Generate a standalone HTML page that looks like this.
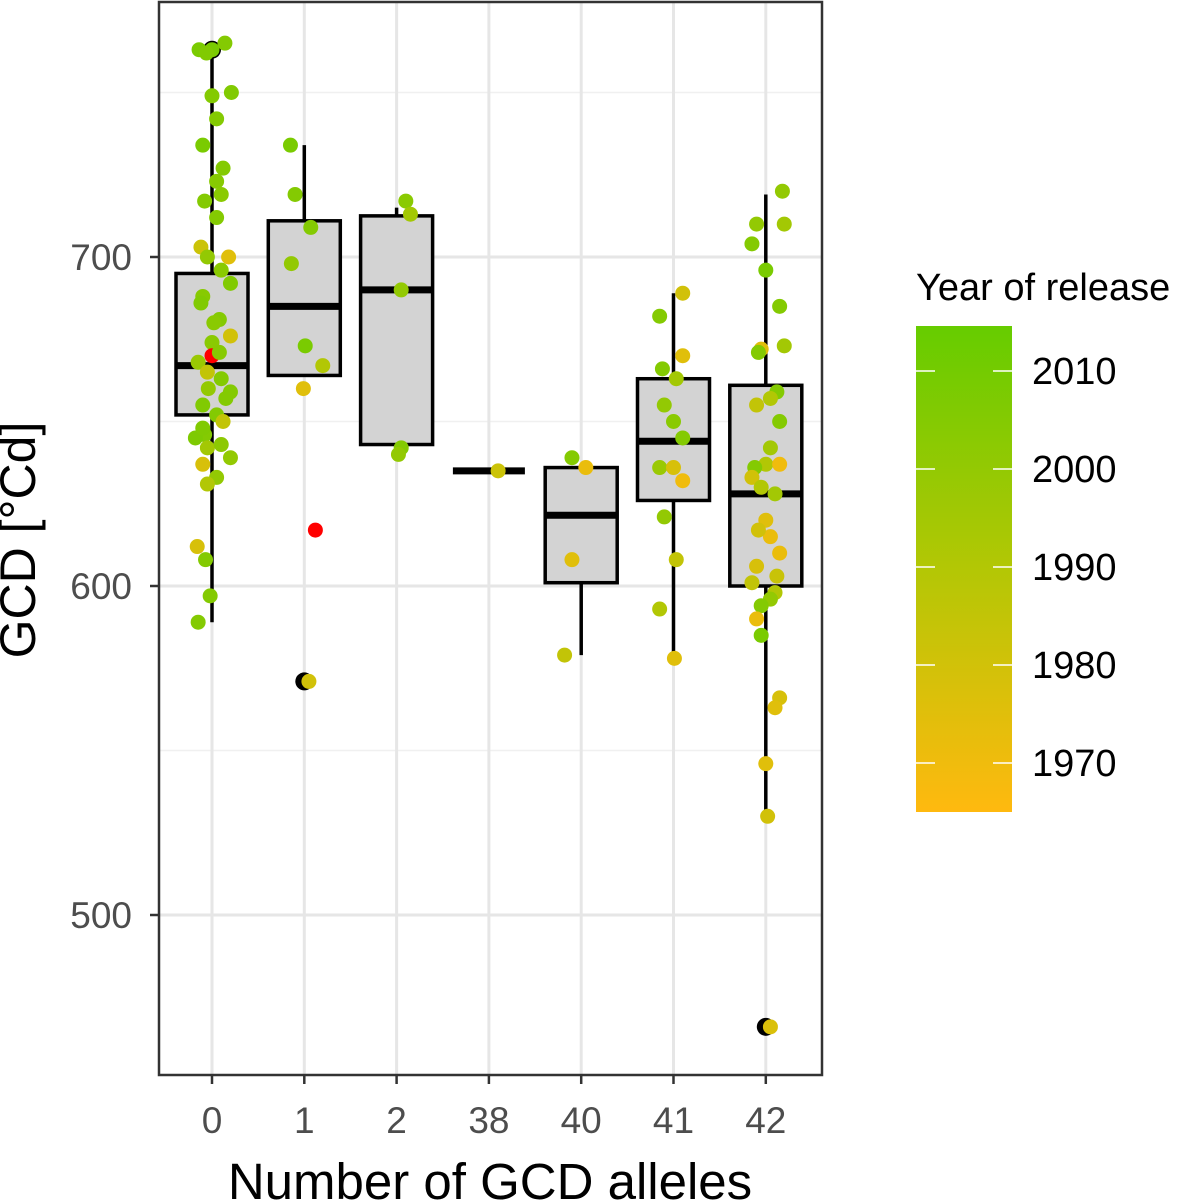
<!DOCTYPE html>
<html><head><meta charset="utf-8"><style>
html,body{margin:0;padding:0;background:#fff;}
svg{display:block;font-family:"Liberation Sans",Arial,sans-serif;}
</style></head><body>
<svg id="chart" width="1181" height="1201" viewBox="0 0 1181 1201">
<defs><linearGradient id="yr" x1="0" y1="1" x2="0" y2="0">
<stop offset="0" stop-color="#FFB90F"/><stop offset="0.5" stop-color="#B3C705"/><stop offset="1" stop-color="#66CC00"/>
</linearGradient></defs>
<g id="grid"></g><g id="boxes"></g><g id="pts"></g>
<rect x="159" y="2" width="663" height="1073" fill="none" stroke="#333" stroke-width="2.5"/>
<g id="axes"></g>
<text x="22" y="540" transform="rotate(-90 22 540)" text-anchor="middle" dominant-baseline="middle" font-size="50" fill="#000">GCD [°Cd]</text>
<text x="490" y="1199" text-anchor="middle" font-size="51" fill="#000">Number of GCD alleles</text>
<g>
<text x="916" y="300" font-size="38" fill="#000">Year of release</text>
<rect x="916" y="326" width="96" height="486" fill="url(#yr)"/>
<g id="leg"></g></g>
</svg>
<script>
const categories=["0","1","2","38","40","41","42"];
const q1=[652,664,643,635,601,626,600];
const med=[667,685,690,635,621.5,644,628];
const q3=[695,711,712.5,635,636,663,661];
const wLo=[589,664,643,635,579,579,530];
const wHi=[763,734,715,635,636,689,719];
const outCat=[0,1,6];
const outVal=[763,571,466];
const yTicks=[500,600,700];
const legendYears=[1970,1980,1990,2000,2010];
// points: category index, jitter offset (category units), value, year
const ptCat=[0,0,0,0,0,0,0,0,0,0,0,0,0,0,0,0,0,0,0,0,0,0,0,0,0,0,0,0,0,0,0,0,0,0,0,0,0,0,0,0,0,0,0,0,0,0,0,0,
1,1,1,1,1,1,1,1,1,
2,2,2,2,2,
3,
4,4,4,4,
5,5,5,5,5,5,5,5,5,5,5,5,5,5,5,
6,6,6,6,6,6,6,6,6,6,6,6,6,6,6,6,6,6,6,6,6,6,6,6,6,6,6,6,6,6,6,6,6,6,6,6,6];
const ptJit=[0,0.14,-0.14,-0.06,0.21,0,0.05,-0.1,0.12,0.05,0.1,-0.08,0.05,-0.12,0.18,-0.05,0.1,0.2,-0.1,0.08,0,0.0,-0.15,-0.05,0.1,0.2,-0.1,0.05,-0.08,-0.05,0.2,-0.1,0.05,-0.05,-0.16,-0.07,-0.02,-0.15,0.12,0.2,-0.04,-0.12,0.08,-0.18,0.15,0.02,-0.1,0.1,
-0.15,-0.1,-0.14,0.07,0.01,0.2,-0.01,0.12,0.05,
0.1,0.15,0.05,0.05,0.02,
0.1,
-0.18,-0.1,-0.1,0.05,
0.1,-0.15,-0.12,0.03,0.1,-0.1,0.0,0.1,-0.15,0,0.1,-0.1,0.03,-0.15,0.01,
0.18,-0.1,0.2,-0.15,0,0.15,-0.05,0.2,-0.08,0.12,0.05,-0.1,0.15,0.05,0,-0.12,-0.15,-0.05,0.1,0,0.05,0.15,-0.1,0.12,-0.15,0.1,0.05,-0.05,-0.1,-0.05,0.15,0.1,0,0.02,-0.08,0.15,0.05];
const ptVal=[763,765,763,762,750,749,742,734,727,723,719,717,712,703,700,700,696,692,688,681,674,670,668,665,663,659,655,652,646,642,639,637,633,631,612,608,597,589,650,676,660,686,671,645,657,680,648,643,
734,719,698,709,673,667,660,617,571,
717,713,690,642,640,
635,
579,608,639,636,
689,682,666,663,670,655,650,645,636,636,632,621,608,593,578,
720,710,710,704,696,685,672,673,671,659,657,655,650,642,637,636,633,630,628,620,615,610,606,603,601,598,596,594,590,585,566,563,546,530,617,637,466];
const ptYr=[2008,2005,2008,2006,2006,2005,2005,2008,2005,2004,2003,2005,2005,1982,1975,2000,2003,2006,2004,2005,2003,2020,1998,1985,2005,2005,2006,2005,2005,1995,2000,1978,2000,1990,1978,2005,2005,2005,1985,1980,2000,2006,2004,2007,2005,2003,2006,2002,
2008,2005,2000,2005,2008,1990,1975,2020,1980,
2003,1995,2000,2005,2000,
1982,
1985,1975,2005,1972,
1980,2005,2005,1995,1975,2000,2003,2005,1998,1978,1970,2000,1985,1990,1975,
2000,2000,1995,2005,2008,2005,1975,1995,2005,2005,1990,1985,2005,1995,1990,2005,1980,1990,1995,1975,1972,1972,1978,1983,1985,1990,2000,2005,1972,2008,1978,1975,1975,1980,1980,1970,1977];
const NS="http://www.w3.org/2000/svg";
const X0=212,DX=92.3;
function xs(c){return X0+c*DX;}
function ys(v){return 257+(700-v)*3.29;}
function yrY(y){return 812-(y-1965)*9.8;}
function col(y){
  if(y>2015) return "#FF0000";
  let t=Math.max(0,Math.min(1,(y-1965)/49.6));
  let a,b,u;
  if(t<0.5){a=[255,185,15];b=[179,199,5];u=t/0.5;}else{a=[179,199,5];b=[102,204,0];u=(t-0.5)/0.5;}
  return "rgb("+a.map((v,i)=>Math.round(v+(b[i]-v)*u)).join(",")+")";
}
function mk(tag,at,parent){const e=document.createElementNS(NS,tag);for(const k in at)e.setAttribute(k,at[k]);parent.appendChild(e);return e;}
const grid=document.getElementById("grid"),boxes=document.getElementById("boxes"),pts=document.getElementById("pts"),axes=document.getElementById("axes"),leg=document.getElementById("leg");
[550,650,750].forEach(v=>{const l=mk("line",{x1:159,x2:822,y1:ys(v),y2:ys(v),stroke:"#f0f0f0","stroke-width":1.5},grid);

});
yTicks.forEach(v=>{const l=mk("line",{x1:159,x2:822,y1:ys(v),y2:ys(v),stroke:"#e6e6e6","stroke-width":3},grid);


const t=mk("line",{x1:150,x2:159,y1:ys(v),y2:ys(v),stroke:"#333","stroke-width":2.5},axes);


const tx=mk("text",{x:132,y:ys(v)+13,"text-anchor":"end","font-size":37,fill:"#4d4d4d"},axes);tx.textContent=v;

});
categories.forEach((c,i)=>{const x=xs(i);
const l=mk("line",{x1:x,x2:x,y1:2,y2:1075,stroke:"#e6e6e6","stroke-width":3},grid);


const t=mk("line",{x1:x,x2:x,y1:1075,y2:1084,stroke:"#333","stroke-width":2.5},axes);


const tx=mk("text",{x:x,y:1133,"text-anchor":"middle","font-size":37,fill:"#4d4d4d"},axes);tx.textContent=c;


const g=mk("g",{},boxes);


mk("line",{x1:x,x2:x,y1:ys(wHi[i]),y2:ys(q3[i]),stroke:"#000","stroke-width":3.5},g);
mk("line",{x1:x,x2:x,y1:ys(q1[i]),y2:ys(wLo[i]),stroke:"#000","stroke-width":3.5},g);
mk("rect",{x:x-36,y:ys(q3[i]),width:72,height:Math.max(0,ys(q1[i])-ys(q3[i])),fill:"#d3d3d3",stroke:"#000","stroke-width":3.5},g);
mk("line",{x1:x-36,x2:x+36,y1:ys(med[i]),y2:ys(med[i]),stroke:"#000","stroke-width":7},g);});
outCat.forEach((c,i)=>{const o=mk("circle",{cx:xs(c),cy:ys(outVal[i]),r:9,fill:"#000"},boxes);

});
ptCat.forEach((c,i)=>{const p=mk("circle",{cx:xs(c+ptJit[i]),cy:ys(ptVal[i]),r:7.5,fill:col(ptYr[i])},pts);

});
legendYears.forEach(y=>{const yy=yrY(y);
mk("line",{x1:916,x2:935,y1:yy,y2:yy,stroke:"#fff","stroke-width":1.5},leg);
mk("line",{x1:993,x2:1012,y1:yy,y2:yy,stroke:"#fff","stroke-width":1.5},leg);
const tx=mk("text",{x:1032,y:yy+13,"font-size":38,fill:"#000"},leg);tx.textContent=y;

});
</script>
</body></html>
